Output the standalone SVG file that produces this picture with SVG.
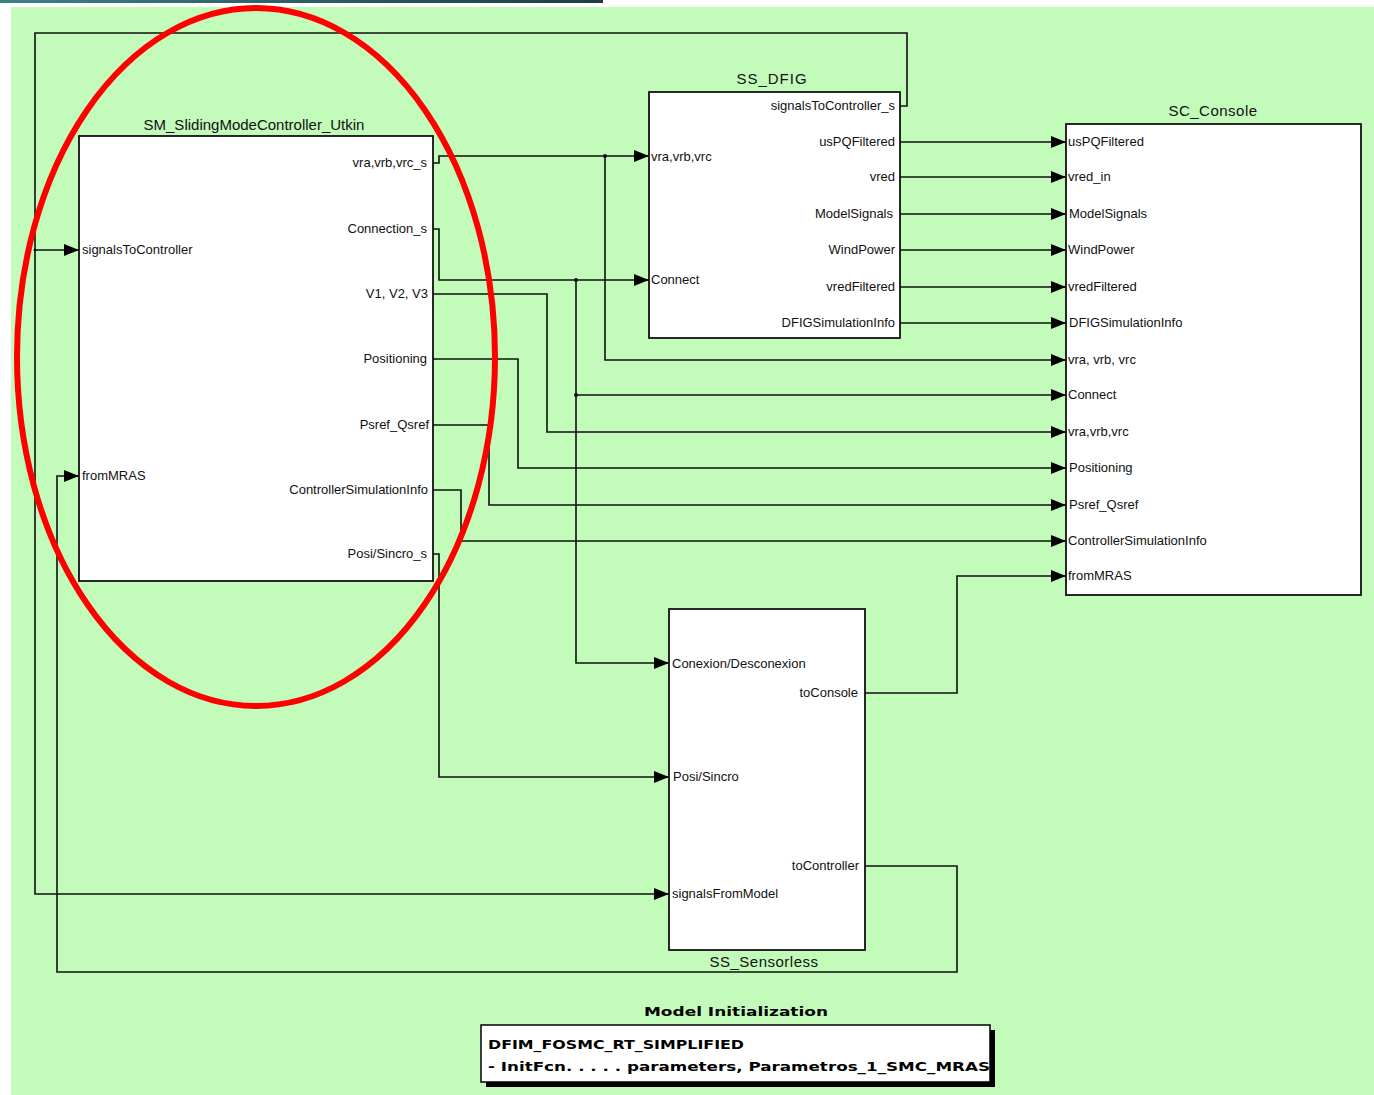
<svg xmlns="http://www.w3.org/2000/svg" width="1374" height="1095" viewBox="0 0 1374 1095">
<defs>
<linearGradient id="bar" x1="0" x2="1" y1="0" y2="0"><stop offset="0" stop-color="#3d8088"/><stop offset="1" stop-color="#1d3d45"/></linearGradient>
<marker id="arr" markerUnits="userSpaceOnUse" markerWidth="16" markerHeight="13" refX="15" refY="6.5" orient="auto"><path d="M0,0.5 L15,6.5 L0,12.5 z" fill="#000"/></marker>
</defs>
<style>
.blk{fill:#fff;stroke:#111;stroke-width:1.8}
.w{fill:none;stroke:#111;stroke-width:1.6}
.a{marker-end:url(#arr)}
.dot{fill:#111}
.lbl{font-family:"Liberation Sans",Arial,sans-serif;font-size:13px;fill:#111}
.r{text-anchor:end}
.ttl{font-family:"Liberation Sans",Arial,sans-serif;font-size:15px;fill:#111;text-anchor:middle}
.mi{font-family:"DejaVu Sans",sans-serif;font-weight:bold;font-size:13px;fill:#000}
</style>
<rect x="0" y="0" width="1374" height="1095" fill="#fff"/>
<rect x="11" y="7" width="1363" height="1088" fill="#c3fbbb"/>
<rect x="0" y="0" width="603" height="3" fill="url(#bar)"/>

<g id="connectors">
<path class="w a" d="M900,106 H907 V33 H35 V894 H669"/>
<path class="w a" d="M35,250 H79"/>
<path class="w a" d="M865,866 H957 V972 H57 V476 H79"/>
<path class="w a" d="M865,693 H957 V576 H1066"/>
<path class="w a" d="M432,163 H439 V156 H649"/>
<path class="w a" d="M605,156 V360 H1066"/>
<path class="w a" d="M432,229 H439 V280 H649"/>
<path class="w a" d="M576,280 V663 H669"/>
<path class="w a" d="M576,395 H1066"/>
<path class="w a" d="M432,294 H547 V432 H1066"/>
<path class="w a" d="M432,359 H518 V468 H1066"/>
<path class="w a" d="M432,425 H489 V505 H1066"/>
<path class="w a" d="M432,490 H461 V541 H1066"/>
<path class="w a" d="M432,554 H439 V777 H669"/>
<path class="w a" d="M900,142 H1066"/>
<path class="w a" d="M900,177 H1066"/>
<path class="w a" d="M900,214 H1066"/>
<path class="w a" d="M900,250 H1066"/>
<path class="w a" d="M900,287 H1066"/>
<path class="w a" d="M900,323 H1066"/>
<circle class="dot" cx="605" cy="156" r="2"/>
<circle class="dot" cx="576" cy="280" r="2"/>
<circle class="dot" cx="576" cy="395" r="2"/>
<circle class="dot" cx="35" cy="250" r="1.5"/>
</g>

<g id="SM_SlidingModeController_Utkin">
<rect class="blk" x="79" y="136" width="354" height="445"/>
<text class="ttl" x="254" y="130">SM_SlidingModeController_Utkin</text>
<text class="lbl" x="82" y="254">signalsToController</text>
<text class="lbl" x="82" y="480">fromMRAS</text>
<text class="lbl r" x="427" y="167">vra,vrb,vrc_s</text>
<text class="lbl r" x="427" y="233">Connection_s</text>
<text class="lbl r" x="428" y="298">V1, V2, V3</text>
<text class="lbl r" x="427" y="363">Positioning</text>
<text class="lbl r" x="429" y="429">Psref_Qsref</text>
<text class="lbl r" x="428" y="494">ControllerSimulationInfo</text>
<text class="lbl r" x="427" y="558">Posi/Sincro_s</text>
</g>

<g id="SS_DFIG">
<rect class="blk" x="649" y="92" width="251" height="246"/>
<text class="ttl" x="772" y="84" letter-spacing="1">SS_DFIG</text>
<text class="lbl" x="651" y="161">vra,vrb,vrc</text>
<text class="lbl" x="651" y="284">Connect</text>
<text class="lbl r" x="895" y="110">signalsToController_s</text>
<text class="lbl r" x="895" y="146">usPQFiltered</text>
<text class="lbl r" x="895" y="181">vred</text>
<text class="lbl r" x="893" y="218">ModelSignals</text>
<text class="lbl r" x="895" y="254">WindPower</text>
<text class="lbl r" x="895" y="291">vredFiltered</text>
<text class="lbl r" x="895" y="327">DFIGSimulationInfo</text>
</g>

<g id="SC_Console">
<rect class="blk" x="1066" y="124" width="295" height="471"/>
<text class="ttl" x="1213" y="116" letter-spacing="0.5">SC_Console</text>
<text class="lbl" x="1068" y="146">usPQFiltered</text>
<text class="lbl" x="1068" y="181">vred_in</text>
<text class="lbl" x="1069" y="218">ModelSignals</text>
<text class="lbl" x="1068" y="254">WindPower</text>
<text class="lbl" x="1068" y="291">vredFiltered</text>
<text class="lbl" x="1069" y="327">DFIGSimulationInfo</text>
<text class="lbl" x="1068" y="364">vra, vrb, vrc</text>
<text class="lbl" x="1068" y="399">Connect</text>
<text class="lbl" x="1068" y="436">vra,vrb,vrc</text>
<text class="lbl" x="1069" y="472">Positioning</text>
<text class="lbl" x="1069" y="509">Psref_Qsref</text>
<text class="lbl" x="1068" y="545">ControllerSimulationInfo</text>
<text class="lbl" x="1068" y="580">fromMRAS</text>
</g>

<g id="SS_Sensorless">
<rect class="blk" x="669" y="609" width="196" height="341"/>
<text class="ttl" x="764" y="967" letter-spacing="0.5">SS_Sensorless</text>
<text class="lbl" x="672" y="668">Conexion/Desconexion</text>
<text class="lbl" x="673" y="781">Posi/Sincro</text>
<text class="lbl" x="672" y="898">signalsFromModel</text>
<text class="lbl r" x="858" y="697">toConsole</text>
<text class="lbl r" x="859" y="870">toController</text>
</g>

<g id="Model_Initialization">
<rect x="486" y="1030" width="509" height="57" fill="#000"/>
<rect x="481" y="1025" width="509" height="57" fill="#fff" stroke="#000" stroke-width="1.5"/>
<text class="mi" x="736" y="1016" text-anchor="middle" textLength="184" lengthAdjust="spacingAndGlyphs">Model Initialization</text>
<text class="mi" x="488" y="1049" textLength="256" lengthAdjust="spacingAndGlyphs">DFIM_FOSMC_RT_SIMPLIFIED</text>
<text class="mi" x="488" y="1071" textLength="502" lengthAdjust="spacingAndGlyphs">- InitFcn. . . . . parameters, Parametros_1_SMC_MRAS</text>
</g>

<ellipse cx="256" cy="357" rx="239" ry="349" fill="none" stroke="#ff0000" stroke-width="6"/>
</svg>
